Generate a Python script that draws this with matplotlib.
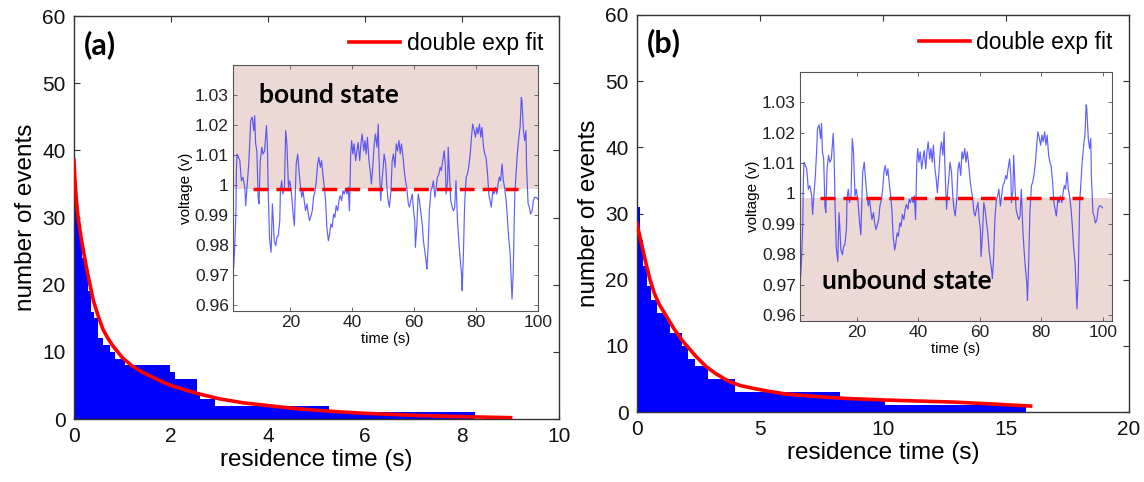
import numpy as np
import matplotlib
matplotlib.use('Agg')
import matplotlib.pyplot as plt

plt.rcParams['font.family'] = ['Liberation Sans', 'DejaVu Sans']

#--------------------------------------------------------------------
# data
# (a) residence time histogram: bin edges (s) and counts
a_edges = [0, 0.06, 0.12, 0.17, 0.24, 0.29, 0.35, 0.42, 0.5, 0.6, 0.75, 0.85,
           0.95, 1.05, 1.98, 2.08, 2.53, 2.6, 2.9, 5.25, 8.27]
a_counts = [33, 30, 27, 24, 22, 19, 16, 15, 12, 11, 10, 9, 9, 8, 7, 6, 4, 3, 2, 1]
# (a) double exp fit
a_fit_t = [0, 0.02, 0.05, 0.08, 0.12, 0.16, 0.2, 0.25, 0.3, 0.35, 0.4, 0.5,
           0.6, 0.7, 0.8, 0.9, 1.0, 1.2, 1.4, 1.6, 1.8, 2.0, 2.3, 2.6, 3.0,
           3.5, 4.0, 4.5, 5.0, 5.5, 6.0, 7.0, 8.0, 9.0]
a_fit_n = [38.5, 35.5, 32.5, 30.3, 28.2, 26.4, 24.8, 22.8, 21.0, 19.3, 17.6, 15.3,
           13.3, 12.0, 10.9, 10.0, 9.1, 7.9, 7.0, 6.3, 5.6, 5.0, 4.3, 3.7, 3.0,
           2.4, 2.0, 1.6, 1.3, 1.05, 0.85, 0.55, 0.35, 0.2]

# (b) residence time histogram
b_edges = [0, 0.12, 0.25, 0.4, 0.55, 0.8, 1.2, 1.35, 1.82, 2.09, 2.36, 2.9,
           3.98, 8.25, 10.08, 15.8]
b_counts = [31, 26, 22, 19, 17, 15, 14, 12, 10, 8, 7, 5, 3, 2, 1]
# (b) double exp fit
b_fit_t = [0, 0.1, 0.2, 0.35, 0.53, 0.7, 0.9, 1.21, 1.5, 1.8, 2.0, 2.4, 2.8,
           3.2, 3.75, 4.2, 4.7, 5.4, 6.1, 7.45, 8.5, 10.2, 11.5, 12.9, 14.5, 16.0]
b_fit_n = [28.5, 26.8, 25.2, 22.7, 20.0, 18.0, 16.3, 14.4, 12.6, 11.0, 10.1, 8.4, 6.9,
           5.8, 4.6, 4.0, 3.6, 3.1, 2.7, 2.3, 2.05, 1.8, 1.65, 1.5, 1.2, 0.9]

# voltage trace shown in both insets
trace_t = [1.5, 1.7, 2.0, 2.4, 2.6, 2.8, 3.7, 4.2, 4.7, 5.3, 5.6, 6.0,
           6.5, 6.9, 7.2, 7.7, 8.2, 8.5, 8.8, 9.2, 9.6, 9.9, 10.3, 10.8,
           11.2, 11.7, 12.3, 12.6, 12.9, 13.3, 13.8, 14.2, 14.5, 14.8, 15.3, 15.7,
           16.1, 16.6, 16.8, 17.2, 17.6, 18.1, 18.5, 18.9, 19.4, 19.8, 20.4, 20.9,
           21.3, 21.6, 21.9, 22.4, 22.8, 23.2, 23.7, 24.1, 24.5, 24.9, 25.4, 25.8,
           26.2, 26.7, 27.1, 27.5, 28.0, 28.4, 28.8, 29.2, 29.7, 30.1, 30.5, 31.0,
           31.4, 31.8, 32.3, 32.7, 33.1, 33.5, 34.0, 34.4, 34.8, 35.3, 35.7, 36.1,
           36.6, 37.0, 37.4, 37.8, 38.3, 38.7, 39.1, 39.5, 39.8, 40.2, 40.6, 41.1,
           41.5, 41.9, 42.4, 42.8, 43.2, 43.7, 44.1, 44.5, 44.9, 45.4, 45.8, 46.2,
           46.7, 47.1, 47.5, 48.0, 48.4, 48.6, 49.0, 49.2, 49.5, 49.9, 50.3, 50.8,
           51.2, 51.6, 52.0, 52.5, 52.9, 53.3, 53.8, 54.2, 54.6, 55.1, 55.5, 55.9,
           56.3, 56.8, 57.2, 57.6, 58.1, 58.5, 58.9, 59.4, 59.8, 60.2, 60.4, 60.9,
           61.3, 61.7, 62.2, 62.6, 63.0, 63.4, 63.9, 64.1, 64.5, 64.9, 65.4, 65.8,
           66.2, 66.7, 67.1, 67.5, 68.0, 68.4, 68.8, 69.2, 69.7, 70.1, 70.3, 70.8,
           71.0, 71.4, 71.8, 72.3, 72.7, 73.1, 73.5, 74.0, 74.4, 74.8, 75.3, 75.5,
           75.9, 76.3, 76.8, 77.2, 77.6, 78.1, 78.5, 78.9, 79.4, 79.8, 80.2, 80.6,
           81.1, 81.5, 81.9, 82.4, 82.8, 83.2, 83.7, 84.1, 84.5, 84.9, 85.4, 85.8,
           86.2, 86.7, 87.1, 87.5, 87.9, 88.4, 88.8, 89.2, 89.7, 90.1, 90.5, 91.0,
           91.4, 91.6, 92.0, 92.5, 92.9, 93.3, 93.8, 94.2, 94.6, 94.8, 95.3, 95.7,
           96.1, 96.3, 96.8, 97.2, 97.6, 98.1, 98.5, 98.9, 99.4, 99.9]
trace_v = [0.9750, 0.9726, 0.9780, 0.9900, 1.0050, 1.0103, 1.0081, 1.0014, 1.0026, 0.9992, 0.9931, 0.9992,
           1.0059, 1.0137, 1.0214, 1.0226, 1.0181, 1.0231, 1.0137, 1.0114, 0.9959, 0.9937, 1.0081, 1.0126,
           1.0103, 1.0114, 1.0198, 1.0126, 0.9964, 0.9820, 0.9776, 0.9937, 0.9881, 0.9814, 0.9798, 0.9826,
           0.9831, 0.9881, 0.9981, 1.0014, 0.9970, 0.9992, 1.0181, 1.0137, 0.9992, 1.0014, 0.9970, 0.9903,
           0.9864, 0.9970, 1.0070, 1.0103, 1.0048, 1.0003, 0.9959, 0.9981, 0.9948, 0.9914, 0.9937, 0.9903,
           0.9881, 0.9898, 0.9914, 0.9959, 0.9981, 1.0014, 1.0070, 1.0092, 1.0059, 1.0081, 1.0037, 0.9992,
           0.9948, 0.9859, 0.9814, 0.9837, 0.9870, 0.9859, 0.9903, 0.9892, 0.9931, 0.9914, 0.9948, 0.9964,
           0.9948, 0.9981, 0.9970, 0.9987, 0.9970, 0.9992, 0.9914, 1.0103, 1.0148, 1.0103, 1.0137, 1.0081,
           1.0114, 1.0142, 1.0081, 1.0137, 1.0170, 1.0114, 1.0148, 1.0103, 1.0159, 1.0081, 1.0048, 1.0003,
           1.0070, 1.0137, 1.0170, 1.0126, 1.0203, 1.0103, 0.9992, 0.9948, 1.0003, 1.0048, 1.0103, 1.0070,
           0.9992, 0.9948, 0.9926, 0.9981, 1.0081, 1.0103, 1.0059, 1.0137, 1.0114, 1.0148, 1.0103, 1.0137,
           1.0103, 1.0048, 1.0014, 0.9992, 0.9937, 0.9926, 0.9948, 0.9970, 0.9914, 0.9881, 0.9792, 0.9870,
           0.9970, 0.9948, 0.9903, 0.9870, 0.9814, 0.9781, 0.9742, 0.9720, 0.9792, 0.9914, 0.9981, 0.9992,
           1.0014, 0.9959, 0.9992, 1.0026, 1.0037, 1.0059, 1.0048, 1.0081, 1.0114, 1.0059, 0.9970, 1.0014,
           1.0126, 1.0037, 0.9948, 0.9926, 0.9914, 0.9926, 1.0014, 0.9881, 0.9814, 0.9759, 0.9703, 0.9648,
           0.9770, 0.9937, 1.0026, 1.0037, 1.0059, 1.0103, 1.0159, 1.0203, 1.0181, 1.0159, 1.0192, 1.0170,
           1.0203, 1.0159, 1.0192, 1.0126, 1.0103, 1.0092, 1.0037, 0.9970, 0.9948, 0.9926, 0.9981, 0.9970,
           0.9992, 0.9970, 1.0003, 1.0026, 1.0014, 1.0070, 1.0014, 0.9992, 0.9948, 0.9892, 0.9826, 0.9770,
           0.9670, 0.9620, 0.9714, 0.9970, 1.0037, 1.0103, 1.0159, 1.0192, 1.0292, 1.0281, 1.0181, 1.0148,
           1.0181, 1.0059, 0.9937, 0.9926, 0.9903, 0.9914, 0.9948, 0.9959, 0.9959, 0.9953]

thresh_t = [8, 93.5]
thresh_v = 0.9985

#--------------------------------------------------------------------
# plot
fig = plt.figure(figsize=(11.44, 4.82), dpi=100)

shade = '#ecd9d5'
edge = '#333333'
bold_font = ['Lato', 'DejaVu Sans']


def style_main(ax):
    for s in ax.spines.values():
        s.set_color(edge)
        s.set_linewidth(1.0)
    ax.tick_params(direction='in', top=True, right=True, length=4, width=0.8,
                   labelsize=15, colors=edge, labelcolor='#111111', pad=6)


def style_inset(ax):
    for s in ax.spines.values():
        s.set_color('#555555')
        s.set_linewidth(0.8)
    ax.tick_params(direction='in', top=True, right=True, length=3, width=0.6,
                   labelsize=12.5, colors='#555555', labelcolor='#222222', pad=3)
    ax.set_xlim(1.5, 100)
    ax.set_ylim(0.958, 1.04)
    ax.set_xticks([20, 40, 60, 80, 100])
    ax.set_yticks([0.96, 0.97, 0.98, 0.99, 1.0, 1.01, 1.02, 1.03])
    ax.set_yticklabels(['0.96', '0.97', '0.98', '0.99', '1', '1.01', '1.02', '1.03'])
    ax.set_xlabel('time (s)', fontsize=10.5, labelpad=1)
    ax.set_ylabel('voltage (v)', fontsize=11, labelpad=1)


def main_panel(ax, edges, counts, fit_t, fit_n, xmax, xstep, label):
    ax.stairs(counts, edges, fill=True, color='#0000ff', zorder=2)
    ax.plot(fit_t, fit_n, color='#ff0000', lw=2.6, label='double exp fit',
            zorder=3, solid_joinstyle='round')
    ax.set_xlim(0, xmax)
    ax.set_ylim(0, 60)
    ax.set_xticks(np.arange(0, xmax + 1, xstep))
    ax.set_yticks(np.arange(0, 61, 10))
    ax.set_xlabel('residence time (s)', fontsize=17.5, labelpad=2)
    ax.set_ylabel('number of events', fontsize=17.5, labelpad=4)
    style_main(ax)
    ax.text(0.02, 0.93, label, transform=ax.transAxes, fontsize=22,
            fontweight='bold', family=bold_font, va='center', ha='left')
    ax.legend(loc='upper right', bbox_to_anchor=(1.0, 1.0), frameon=False,
              fontsize=16.5, handlelength=2.2, handletextpad=0.3,
              borderaxespad=0.3)


ax_a = fig.add_axes([0.0647, 0.1307, 0.424, 0.836])
main_panel(ax_a, a_edges, a_counts, a_fit_t, a_fit_n, 10, 2, '(a)')

ax_b = fig.add_axes([0.5568, 0.1452, 0.430, 0.8237])
main_panel(ax_b, b_edges, b_counts, b_fit_t, b_fit_n, 20, 5, '(b)')

# insets
in_a = fig.add_axes([0.2037, 0.3548, 0.2666, 0.5104])
in_a.axhspan(thresh_v, 1.04, color=shade, lw=0, zorder=0)
in_a.plot(trace_t, trace_v, color='#2a2aff', lw=0.85, alpha=0.75, zorder=2)
in_a.plot(thresh_t, [thresh_v, thresh_v], color='#ff0000', lw=2.5,
          linestyle=(0, (4.3, 2.3)), zorder=3)
style_inset(in_a)
in_a.text(10, 1.03, 'bound state', fontsize=19, fontweight='bold',
          family=bold_font, va='center', ha='left')

in_b = fig.add_axes([0.6993, 0.334, 0.2727, 0.5166])
in_b.axhspan(0.958, thresh_v, color=shade, lw=0, zorder=0)
in_b.plot(trace_t, trace_v, color='#2a2aff', lw=0.85, alpha=0.75, zorder=2)
in_b.plot(thresh_t, [thresh_v, thresh_v], color='#ff0000', lw=2.5,
          linestyle=(0, (4.3, 2.3)), zorder=3)
style_inset(in_b)
in_b.set_xlim(1.5, 103)
in_b.text(8.6, 0.9711, 'unbound state', fontsize=19, fontweight='bold',
          family=bold_font, va='center', ha='left')

fig.savefig('out.png', dpi=100)
